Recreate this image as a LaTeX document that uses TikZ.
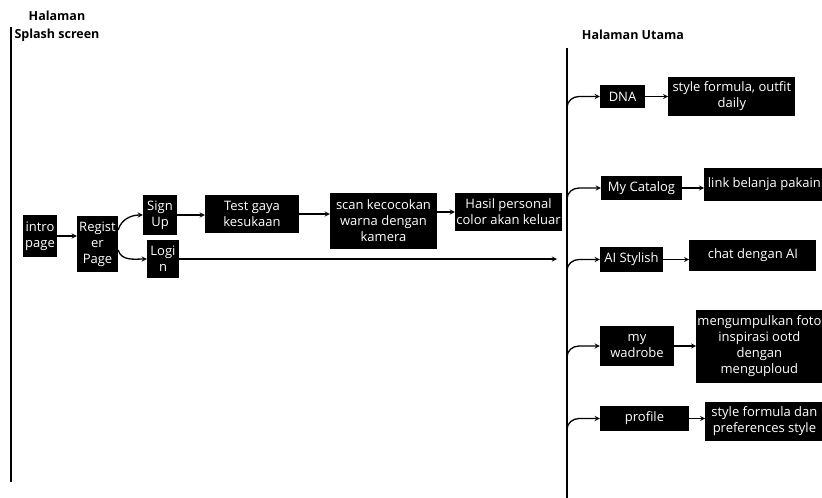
\documentclass[tikz,border=0pt]{standalone}
\usepackage{fontspec}
\setmainfont{Open Sans}
\usetikzlibrary{arrows, positioning}

\begin{document}
\begin{tikzpicture}[
    x=1pt, y=-1pt,
    box/.style={draw=none, rectangle, fill=black, text=white, align=center,
      inner sep=1pt, font=\fontsize{13}{16}\selectfont},
    head/.style={align=center, font=\bfseries\fontsize{12.5}{18}\selectfont},
    arrow/.style={line width=1.3pt,->,>=stealth},
    branch/.style={line width=1.3pt,->,>=stealth}
]
\useasboundingbox (0,0) rectangle (822,498);

% titles and the two spines
\node[head] (splashtitle) at (57,26) {Halaman\\Splash screen};
\node[head] (maintitle) at (633,35) {Halaman Utama};
\coordinate (lefttop) at (11,27);
\coordinate (leftbot) at (11,482);
\coordinate (spinetop) at (567,48);
\coordinate (spinebot) at (567,498);
\draw[line width=1.3pt] (lefttop) -- (leftbot);
\draw[line width=1.3pt] (spinetop) -- (spinebot);

% splash screen flow
\node[box, minimum width=34pt, minimum height=42pt] (intro) at (40,236) {intro\\page};
\node[box, minimum width=41pt, minimum height=56pt] (register) at (97.5,244) {Regist\\er\\Page};
\node[box, minimum width=34pt, minimum height=40pt] (signup) at (160,215) {Sign\\Up};
\node[box, minimum width=32pt, minimum height=38pt] (login) at (163,259) {Logi\\n};
\node[box, minimum width=94pt, minimum height=38pt] (testgaya) at (252,214) {Test gaya\\kesukaan};
\node[box, minimum width=107pt, minimum height=56pt] (scan) at (383.5,221) {scan kecocokan\\warna dengan\\kamera};
\node[box, minimum width=107pt, minimum height=38pt] (hasil) at (508.5,212) {Hasil personal\\color akan keluar};
\coordinate (mainin) at (557,259);

\draw[arrow] (intro.east) -- (intro.east -| register.west);
\draw[arrow] ([yshift=14pt]register.east) to[out=75,in=180] (signup.west);
\draw[arrow] ([yshift=-6pt]register.east) to[out=-75,in=180] (login.west);
\draw[arrow] (signup.east) -- (signup.east -| testgaya.west);
\draw[arrow] (testgaya.east) -- (testgaya.east -| scan.west);
\draw[arrow] (hasil.west -| scan.east) -- (hasil.west);
\draw[arrow] (login.east) -- (mainin);

% halaman utama menu
\node[box, minimum width=45pt, minimum height=23pt] (dna) at (622.5,96.5) {DNA};
\node[box, minimum width=127pt, minimum height=39pt, right=23pt of dna] (dnaout) {style formula, outfit\\daily};
\node[box, minimum width=81pt, minimum height=24pt] (catalog) at (641.5,188) {My Catalog};
\node[box, minimum width=120pt, minimum height=33pt, right=22pt of catalog, yshift=3.5pt] (catalogout) {link belanja pakain};
\node[box, minimum width=63pt, minimum height=25pt] (aistylish) at (631.5,259.5) {AI Stylish};
\node[box, minimum width=127pt, minimum height=31pt, right=26pt of aistylish, yshift=4pt] (aiout) {chat dengan AI};
\node[box, minimum width=74pt, minimum height=40pt] (wardrobe) at (637,346) {my\\wadrobe};
\node[box, minimum width=126pt, minimum height=73pt, right=22pt of wardrobe] (wardrobeout) {mengumpulkan foto\\inspirasi ootd\\dengan\\menguploud};
\node[box, minimum width=89pt, minimum height=25pt] (profile) at (644.5,418.5) {profile};
\node[box, minimum width=118pt, minimum height=39pt, right=16pt of profile, yshift=-3pt] (profileout) {style formula dan\\preferences style};

\foreach \item in {dna, catalog, aistylish, wardrobe, profile}
  \draw[branch] ([yshift=-11pt]\item.west -| spinetop) to[out=90,in=180] ([xshift=12pt]\item.west -| spinetop) -- (\item.west);

\draw[arrow] (dna.east) -- (dna.east -| dnaout.west);
\draw[arrow] (catalog.east) -- (catalog.east -| catalogout.west);
\draw[arrow] (aistylish.east) -- (aistylish.east -| aiout.west);
\draw[arrow] (wardrobe.east) -- (wardrobe.east -| wardrobeout.west);
\draw[arrow] (profile.east) -- (profile.east -| profileout.west);
\end{tikzpicture}
\end{document}
